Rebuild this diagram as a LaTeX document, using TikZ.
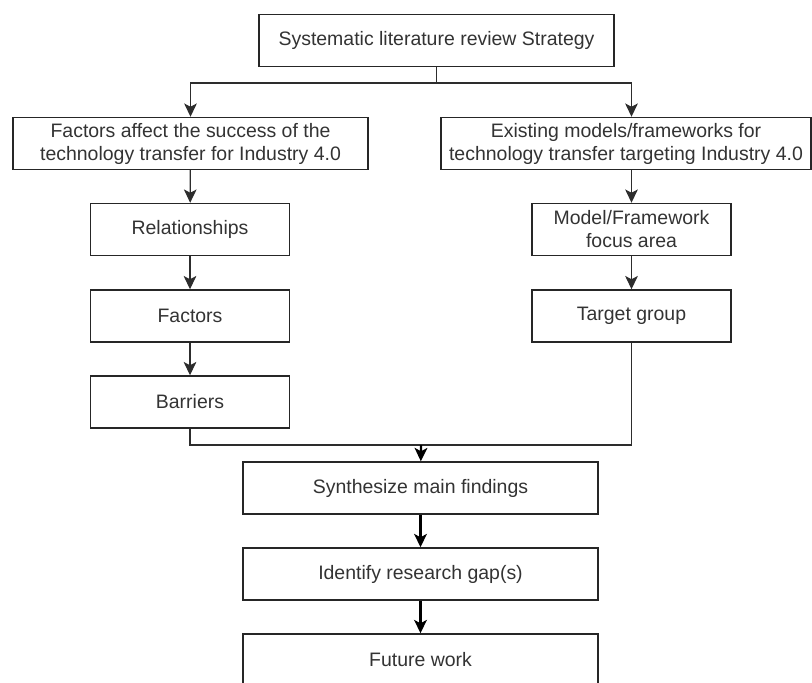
\documentclass[tikz,border=0pt]{standalone}
\usepackage{fontspec}
\setmainfont{Liberation Sans}
\usetikzlibrary{arrows.meta}
\definecolor{ln}{RGB}{45,45,45}
\definecolor{tx}{RGB}{51,51,51}
\def\boxheight{39pt}
\def\widebox{266.25pt}
\def\smallbox{149.25pt}
\tikzset{stepbox/.style={draw=black!85,line width=1.1pt,rectangle,minimum height=\boxheight,align=center,text=tx,font=\fontsize{14.6pt}{17.3pt}\selectfont,inner sep=1pt},
	link/.style={-{Stealth[length=10pt,width=9.5pt,inset=2.5pt]},draw=ln,line width=0.9pt},
	boldlink/.style={link,draw=black,line width=1.6pt}}
\newcommand{\stepnode}[5]{\node[stepbox,minimum width=#4] (#3) at (#1,#2) {#5};}
\begin{document}
\begin{tikzpicture}[x=0.75pt,y=-0.75pt]
\useasboundingbox (0,0) rectangle (812,682);
\stepnode{436.5}{40.5}{review}{\widebox}{Systematic literature review Strategy}
\stepnode{190.5}{143.5}{success}{\widebox}{Factors affect the success of the\\technology transfer for Industry 4.0}
\stepnode{626}{143.5}{models}{277.5pt}{Existing models/frameworks for\\technology transfer targeting Industry 4.0}
\stepnode{190}{229.5}{relations}{\smallbox}{Relationships}
\stepnode{190}{316}{factors}{\smallbox}{Factors}
\stepnode{190}{402}{barriers}{\smallbox}{Barriers}
\stepnode{631.5}{229.5}{focus}{\smallbox}{Model/Framework\\focus area}
\stepnode{631.5}{316}{target}{\smallbox}{Target group}
\stepnode{420.5}{488}{synth}{\widebox}{Synthesize main findings}
\stepnode{420.5}{574}{gap}{\widebox}{Identify research gap(s)}
\stepnode{420.5}{660}{future}{\widebox}{Future work}

\coordinate (fork) at (436.5,83);
\coordinate (join) at (421,445);

\draw[link,-] (review) -- (fork);
\draw[link] (fork) -| (success);
\draw[link] (fork) -| (focus |- models.north);
\draw[link] (success) -- (relations);
\draw[link] (relations) -- (factors);
\draw[link] (factors) -- (barriers);
\draw[link] (models.south -| focus) -- (focus);
\draw[link] (focus) -- (target);
\draw[link,-] (barriers.south) |- (join);
\draw[link,-] (target.south) |- (join);
\draw[boldlink] (join) -- (synth);
\draw[boldlink] (synth) -- (gap);
\draw[boldlink] (gap) -- (future);
\end{tikzpicture}
\end{document}
